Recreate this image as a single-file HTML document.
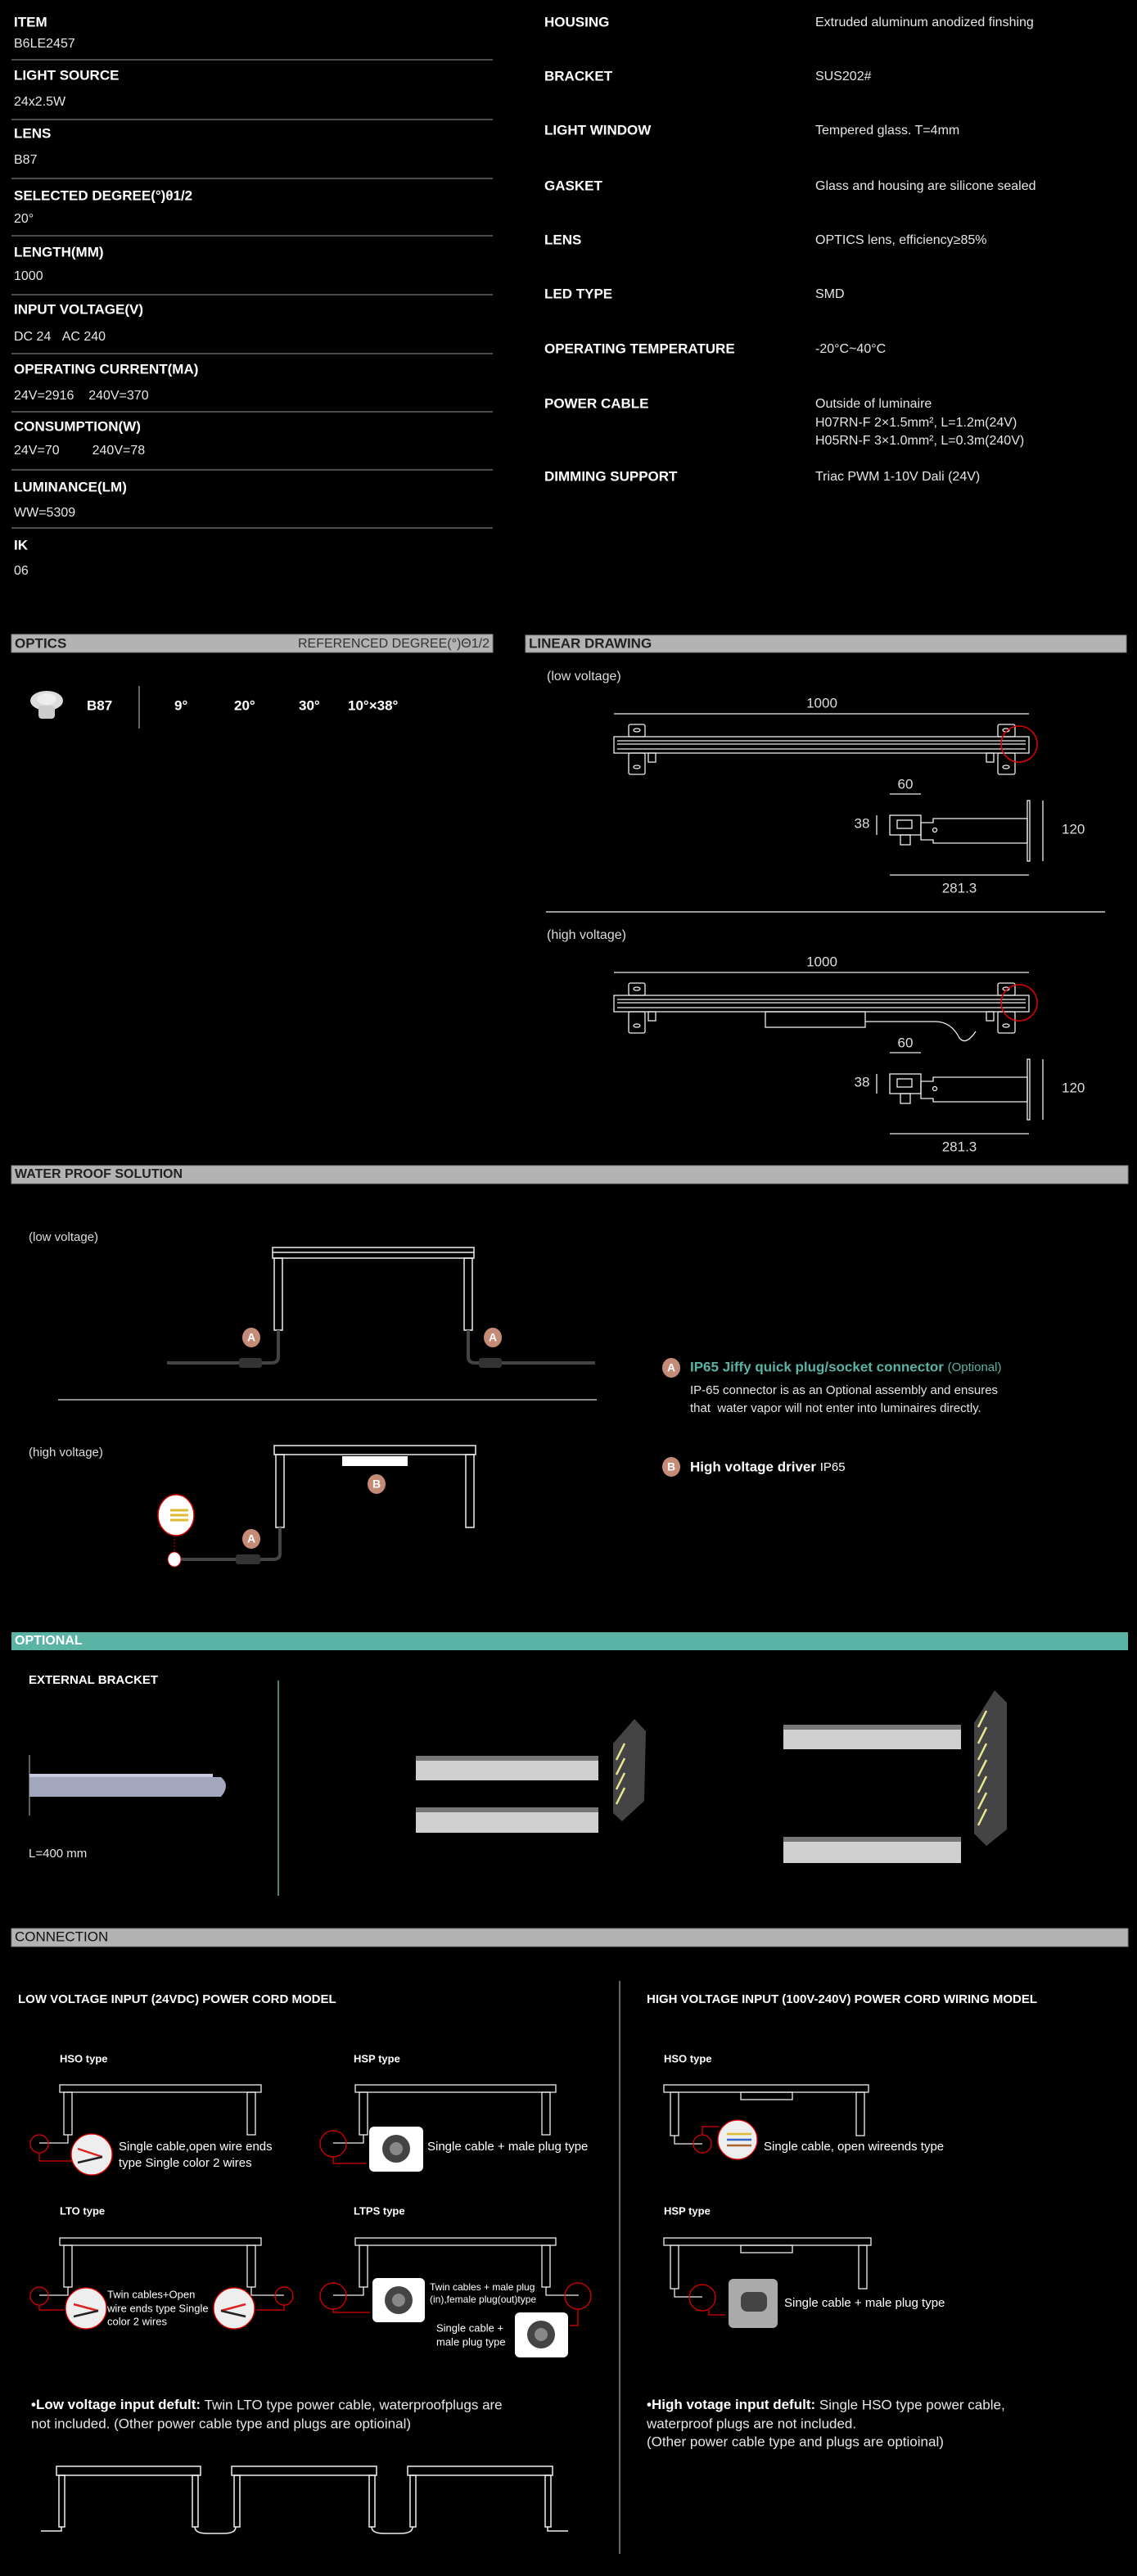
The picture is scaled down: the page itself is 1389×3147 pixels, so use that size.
<!DOCTYPE html>
<html><head><meta charset="utf-8"><style>
html,body{margin:0;padding:0;background:#000;}
svg{display:block}
text{font-family:"Liberation Sans",sans-serif;dominant-baseline:middle;white-space:pre}
.lb{font-weight:bold;font-size:17px;fill:#fff}
.v{font-size:16px;fill:#e6e6e6}
.hd{font-weight:bold;font-size:17px;fill:#222}
.sm{font-size:15px;fill:#fff}
.dim{font-size:17px;fill:#ddd}
</style></head><body>
<svg width="1389" height="3147" viewBox="0 0 1389 3147" xmlns="http://www.w3.org/2000/svg">
<rect width="1389" height="3147" fill="#000"/>

<!-- LEFT SPEC TABLE -->
<g stroke="#666" stroke-width="1.5">
<line x1="14" y1="73" x2="602" y2="73"/><line x1="14" y1="146" x2="602" y2="146"/>
<line x1="14" y1="218" x2="602" y2="218"/><line x1="14" y1="288" x2="602" y2="288"/>
<line x1="14" y1="360" x2="602" y2="360"/><line x1="14" y1="432" x2="602" y2="432"/>
<line x1="14" y1="503" x2="602" y2="503"/><line x1="14" y1="574" x2="602" y2="574"/>
<line x1="14" y1="645" x2="602" y2="645"/>
</g>
<text class="lb" x="17" y="28">ITEM</text><text class="v" x="17" y="54">B6LE2457</text>
<text class="lb" x="17" y="93">LIGHT SOURCE</text><text class="v" x="17" y="125">24x2.5W</text>
<text class="lb" x="17" y="164">LENS</text><text class="v" x="17" y="196">B87</text>
<text class="lb" x="17" y="240">SELECTED DEGREE(°)θ1/2</text><text class="v" x="17" y="268">20°</text>
<text class="lb" x="17" y="309">LENGTH(MM)</text><text class="v" x="17" y="338">1000</text>
<text class="lb" x="17" y="379">INPUT VOLTAGE(V)</text><text class="v" x="17" y="412">DC 24&#160;&#160;&#160;AC 240</text>
<text class="lb" x="17" y="452">OPERATING CURRENT(MA)</text><text class="v" x="17" y="484">24V=2916&#160;&#160;&#160;&#160;240V=370</text>
<text class="lb" x="17" y="522">CONSUMPTION(W)</text><text class="v" x="17" y="551">24V=70&#160;&#160;&#160;&#160;&#160;&#160;&#160;&#160;&#160;240V=78</text>
<text class="lb" x="17" y="596">LUMINANCE(LM)</text><text class="v" x="17" y="627">WW=5309</text>
<text class="lb" x="17" y="667">IK</text><text class="v" x="17" y="698">06</text>

<!-- RIGHT SPEC TABLE -->
<text class="lb" x="665" y="28">HOUSING</text><text class="v" x="996" y="28">Extruded aluminum anodized finshing</text>
<text class="lb" x="665" y="94">BRACKET</text><text class="v" x="996" y="94">SUS202#</text>
<text class="lb" x="665" y="160">LIGHT WINDOW</text><text class="v" x="996" y="160">Tempered glass. T=4mm</text>
<text class="lb" x="665" y="228">GASKET</text><text class="v" x="996" y="228">Glass and housing are silicone sealed</text>
<text class="lb" x="665" y="294">LENS</text><text class="v" x="996" y="294">OPTICS lens, efficiency≥85%</text>
<text class="lb" x="665" y="360">LED TYPE</text><text class="v" x="996" y="360">SMD</text>
<text class="lb" x="665" y="427">OPERATING TEMPERATURE</text><text class="v" x="996" y="427">-20°C~40°C</text>
<text class="lb" x="665" y="494">POWER CABLE</text><text class="v" x="996" y="494">Outside of luminaire</text>
<text class="v" x="996" y="517">H07RN-F 2×1.5mm², L=1.2m(24V)</text>
<text class="v" x="996" y="539">H05RN-F 3×1.0mm², L=0.3m(240V)</text>
<text class="lb" x="665" y="583">DIMMING SUPPORT</text><text class="v" x="996" y="583">Triac PWM 1-10V Dali (24V)</text>

<!-- OPTICS -->
<rect x="14" y="775" width="588" height="22" fill="#b3b3b3" stroke="#888"/>
<text class="hd" x="18" y="787">OPTICS</text>
<text x="598" y="787" text-anchor="end" style="font-size:16px;fill:#333">REFERENCED DEGREE(°)Θ1/2</text>
<ellipse cx="57" cy="856" rx="20" ry="12" fill="#ddd"/><rect x="47" y="862" width="20" height="16" rx="4" fill="#ccc"/>
<ellipse cx="57" cy="854" rx="12" ry="7" fill="#eee"/>
<text class="lb" x="106" y="863" style="font-size:17px">B87</text>
<line x1="170" y1="838" x2="170" y2="890" stroke="#888" stroke-width="1.5"/>
<text class="lb" x="213" y="863">9°</text><text class="lb" x="286" y="863">20°</text>
<text class="lb" x="365" y="863">30°</text><text class="lb" x="425" y="863">10°×38°</text>

<!-- LINEAR DRAWING -->
<rect x="642" y="776" width="734" height="21" fill="#b3b3b3" stroke="#888"/>
<text class="hd" x="646" y="787">LINEAR DRAWING</text>
<text class="dim" x="668" y="827" style="font-size:16px">(low voltage)</text>
<line x1="667" y1="1114" x2="1350" y2="1114" stroke="#ccc" stroke-width="1.5"/>
<text class="dim" x="668" y="1143" style="font-size:16px">(high voltage)</text>

<g id="lin" fill="none" stroke="#eee" stroke-width="1.3">
<text x="1004" y="860" text-anchor="middle" class="dim" stroke="none">1000</text>
<line x1="750" y1="872" x2="1257" y2="872"/>
<rect x="750" y="900" width="507" height="20"/>
<line x1="754" y1="905" x2="1253" y2="905"/><line x1="754" y1="909" x2="1253" y2="909"/>
<line x1="754" y1="915" x2="1253" y2="915"/>
<rect x="768" y="885" width="20" height="15" rx="2"/><rect x="768" y="920" width="20" height="26" rx="2"/>
<rect x="1219" y="885" width="21" height="15" rx="2"/><rect x="1219" y="920" width="21" height="26" rx="2"/>
<rect x="792" y="920" width="9" height="11"/><rect x="1205" y="920" width="9" height="11"/>
<ellipse cx="778" cy="892" rx="4" ry="2"/><ellipse cx="778" cy="937" rx="4" ry="2"/>
<ellipse cx="1229" cy="892" rx="4" ry="2"/><ellipse cx="1229" cy="937" rx="4" ry="2"/>
<circle cx="1245" cy="909" r="22" stroke="#d00" stroke-width="1.5"/>
<text x="1106" y="959" text-anchor="middle" class="dim" stroke="none">60</text>
<line x1="1087" y1="970" x2="1125" y2="970"/>
<text x="1053" y="1007" text-anchor="middle" class="dim" stroke="none">38</text>
<line x1="1071" y1="996" x2="1071" y2="1020"/>
<rect x="1087" y="996" width="38" height="24"/><rect x="1096" y="1002" width="18" height="10"/>
<rect x="1100" y="1020" width="12" height="12"/>
<path d="M1125 1005 h15 v-5 h115 v30 h-115 v-4 h-15z"/><circle cx="1142" cy="1014" r="2.5"/>
<rect x="1255" y="978" width="3" height="74"/>
<line x1="1274" y1="978" x2="1274" y2="1052"/>
<text x="1297" y="1014" class="dim" stroke="none">120</text>
<line x1="1087" y1="1069" x2="1257" y2="1069"/>
<text x="1172" y="1086" text-anchor="middle" class="dim" stroke="none">281.3</text>
</g>
<use href="#lin" y="316"/>
<g fill="none" stroke="#eee" stroke-width="1.3">
<rect x="935" y="1236" width="122" height="19"/>
<path d="M1057 1248 h85 q20 0 30 20 q8 10 20 -8"/>
</g>

<!-- WATER PROOF -->
<rect x="14" y="1424" width="1364" height="22" fill="#b3b3b3" stroke="#888"/>
<text class="hd" x="18" y="1435" style="font-size:16px">WATER PROOF SOLUTION</text>
<text class="dim" x="35" y="1512" style="font-size:15px">(low voltage)</text>
<g fill="none" stroke="#eee" stroke-width="1.5">
<rect x="333" y="1524" width="246" height="13"/><line x1="333" y1="1530" x2="579" y2="1530"/>
<rect x="335" y="1537" width="10" height="88"/><rect x="567" y="1537" width="10" height="88"/>
<rect x="335" y="1766" width="246" height="11"/>
<rect x="337" y="1777" width="10" height="89"/><rect x="569" y="1777" width="10" height="89"/>
</g>
<rect x="418" y="1779" width="80" height="12" fill="#fff"/>
<g fill="none" stroke="#444" stroke-width="4">
<path d="M340 1625 v32 q0 8 -8 8 h-128"/><path d="M572 1625 v32 q0 8 8 8 h147"/>
<path d="M342 1866 v32 q0 7 -8 7 h-113"/>
</g>
<g fill="#333"><rect x="292" y="1659" width="28" height="12" rx="3"/><rect x="585" y="1659" width="28" height="12" rx="3"/><rect x="288" y="1899" width="30" height="12" rx="3"/></g>
<ellipse cx="215" cy="1851" rx="22" ry="25" fill="#fff" stroke="#c00" stroke-width="1.5"/>
<ellipse cx="213" cy="1905" rx="8" ry="9" fill="#fff" stroke="#c00"/>
<line x1="213" y1="1876" x2="213" y2="1896" stroke="#c00" stroke-dasharray="2 2"/>
<path d="M208 1845 h22 M208 1851 h22 M208 1857 h22" stroke-width="3" stroke="#db3"/>
<g font-weight="bold" font-size="14" fill="#fff" text-anchor="middle">
<ellipse cx="307" cy="1634" rx="11" ry="12" fill="#c48b77"/><text x="307" y="1635">A</text>
<ellipse cx="602" cy="1634" rx="11" ry="12" fill="#c48b77"/><text x="602" y="1635">A</text>
<ellipse cx="460" cy="1813" rx="11" ry="12" fill="#c48b77"/><text x="460" y="1814">B</text>
<ellipse cx="307" cy="1880" rx="11" ry="12" fill="#c48b77"/><text x="307" y="1881">A</text>
<ellipse cx="820" cy="1671" rx="11" ry="12" fill="#c48b77"/><text x="820" y="1672">A</text>
<ellipse cx="820" cy="1792" rx="11" ry="12" fill="#c48b77"/><text x="820" y="1793">B</text>
</g>
<line x1="71" y1="1710" x2="729" y2="1710" stroke="#bbb" stroke-width="1.5"/>
<text class="dim" x="35" y="1775" style="font-size:15px">(high voltage)</text>
<text x="843" y="1671" style="font-size:17px;font-weight:bold;fill:#5ab3a4">IP65 Jiffy quick plug/socket connector <tspan font-weight="normal" font-size="15">(Optional)</tspan></text>
<text x="843" y="1699" class="v" style="font-size:15px">IP-65 connector is as an Optional assembly and ensures</text>
<text x="843" y="1721" class="v" style="font-size:15px">that&#160; water vapor will not enter into luminaires directly.</text>
<text x="843" y="1793" style="font-size:17px;font-weight:bold;fill:#fff">High voltage driver <tspan font-weight="normal" font-size="15">IP65</tspan></text>

<!-- OPTIONAL -->
<rect x="14" y="1994" width="1364" height="22" fill="#5ab3a4"/>
<text x="18" y="2005" style="font-size:16px;font-weight:bold;fill:#fff">OPTIONAL</text>
<text x="35" y="2053" style="font-size:15px;font-weight:bold;fill:#fff">EXTERNAL BRACKET</text>
<line x1="340" y1="2053" x2="340" y2="2316" stroke="#5ab3a4" stroke-width="1.5"/>
<line x1="36" y1="2144" x2="36" y2="2218" stroke="#bbb"/>
<path d="M36 2167 h224 v4 h10 q12 10 0 24 h-10 v0 h-224z" fill="#a3a7bd"/>
<rect x="36" y="2167" width="224" height="4" fill="#c8cbe0"/>
<text x="35" y="2265" class="v" style="font-size:15px">L=400 mm</text>
<g fill="#d0d0d0">
<rect x="508" y="2145" width="223" height="30"/><rect x="508" y="2208" width="223" height="31"/>
<rect x="957" y="2107" width="217" height="30"/><rect x="957" y="2244" width="217" height="32"/>
</g>
<g fill="#777"><rect x="508" y="2145" width="223" height="6"/><rect x="508" y="2208" width="223" height="6"/>
<rect x="957" y="2107" width="217" height="6"/><rect x="957" y="2244" width="217" height="6"/></g>
<polygon points="749,2130 775,2100 789,2115 787,2200 760,2225 749,2215" fill="#444"/>
<polygon points="1190,2105 1215,2065 1230,2080 1230,2235 1205,2255 1190,2240" fill="#444"/>
<g stroke="#e8e890" stroke-width="2.5">
<line x1="753" y1="2150" x2="763" y2="2130"/><line x1="753" y1="2168" x2="763" y2="2148"/><line x1="753" y1="2186" x2="763" y2="2166"/><line x1="753" y1="2204" x2="763" y2="2184"/>
<line x1="1195" y1="2110" x2="1205" y2="2090"/><line x1="1195" y1="2130" x2="1205" y2="2110"/><line x1="1195" y1="2150" x2="1205" y2="2130"/><line x1="1195" y1="2170" x2="1205" y2="2150"/><line x1="1195" y1="2190" x2="1205" y2="2170"/><line x1="1195" y1="2210" x2="1205" y2="2190"/><line x1="1195" y1="2230" x2="1205" y2="2210"/>
</g>

<!-- CONNECTION -->
<rect x="14" y="2356" width="1364" height="22" fill="#b3b3b3" stroke="#888"/>
<text x="18" y="2367" style="font-size:17px;fill:#111">CONNECTION</text>
<line x1="757" y1="2420" x2="757" y2="3120" stroke="#888" stroke-width="1.5"/>
<text class="lb" x="22" y="2443" style="font-size:15px">LOW VOLTAGE INPUT (24VDC) POWER CORD MODEL</text>
<text class="lb" x="790" y="2443" style="font-size:15px">HIGH VOLTAGE INPUT (100V-240V) POWER CORD WIRING MODEL</text>
<text class="lb" x="73" y="2516" style="font-size:13px">HSO type</text><text class="lb" x="432" y="2516" style="font-size:13px">HSP type</text>
<text class="lb" x="73" y="2702" style="font-size:13px">LTO type</text><text class="lb" x="432" y="2702" style="font-size:13px">LTPS type</text>
<text class="lb" x="811" y="2516" style="font-size:13px">HSO type</text><text class="lb" x="811" y="2702" style="font-size:13px">HSP type</text>
<g fill="none" stroke="#eee" stroke-width="1.3">
<rect x="73" y="2547" width="246" height="9"/><rect x="78" y="2556" width="10" height="52"/><rect x="302" y="2556" width="10" height="52"/>
<rect x="434" y="2547" width="245" height="9"/><rect x="439" y="2556" width="10" height="52"/><rect x="662" y="2556" width="10" height="52"/>
<rect x="73" y="2734" width="246" height="9"/><rect x="78" y="2743" width="10" height="51"/><rect x="302" y="2743" width="10" height="51"/>
<rect x="434" y="2734" width="245" height="9"/><rect x="439" y="2743" width="10" height="51"/><rect x="662" y="2743" width="10" height="51"/>
<rect x="811" y="2547" width="250" height="9"/><rect x="819" y="2556" width="10" height="53"/><rect x="1046" y="2556" width="10" height="53"/>
<rect x="905" y="2556" width="63" height="9"/>
<rect x="811" y="2734" width="253" height="9"/><rect x="819" y="2743" width="10" height="53"/><rect x="1049" y="2743" width="10" height="53"/>
<rect x="905" y="2743" width="63" height="9"/>
<path d="M83 2608 v10 h-35"/><path d="M444 2608 v10 h-37"/>
<path d="M83 2794 v10 h-35"/><path d="M307 2794 v10 h40"/><path d="M444 2794 v10 h-37"/><path d="M667 2794 v10 h40"/>
<path d="M824 2609 v10 h34"/><path d="M824 2796 v10 h34"/>
</g>
<g fill="none" stroke="#d00" stroke-width="1.3">
<circle cx="48" cy="2619" r="11"/><circle cx="407" cy="2619" r="16"/>
<circle cx="48" cy="2805" r="11"/><circle cx="347" cy="2805" r="11"/>
<circle cx="407" cy="2805" r="16"/><circle cx="706" cy="2805" r="16"/>
<circle cx="858" cy="2619" r="11"/><circle cx="858" cy="2807" r="16"/>
<path d="M48 2630 v10 h60"/><path d="M407 2635 v8 h40"/><path d="M48 2816 v6 h30"/><path d="M347 2816 v6 h-34"/>
<path d="M407 2821 v4 h45"/><path d="M706 2821 v20 h-10"/><path d="M858 2608 v-10 h20"/><path d="M866 2822 v6 h20"/>
</g>
<g fill="#eee" stroke="#d00" stroke-width="1.3">
<circle cx="112" cy="2632" r="25"/><circle cx="105" cy="2820" r="25"/><circle cx="286" cy="2820" r="25"/><circle cx="901" cy="2614" r="24"/>
</g>
<g stroke-width="2.5"><path d="M95 2625 l30 10" stroke="#d22"/><path d="M95 2642 l30 -7" stroke="#222"/>
<path d="M90 2815 l30 8" stroke="#d22"/><path d="M90 2830 l30 -7" stroke="#222"/>
<path d="M300 2815 l-30 8" stroke="#d22"/><path d="M300 2830 l-30 -7" stroke="#222"/>
<path d="M888 2607 h30" stroke="#db3"/><path d="M888 2614 h30" stroke="#36c"/><path d="M888 2621 h30" stroke="#a63"/></g>
<g fill="#fff"><rect x="451" y="2598" width="66" height="55" rx="6"/><rect x="455" y="2783" width="64" height="54" rx="6"/><rect x="629" y="2825" width="65" height="55" rx="6"/></g>
<rect x="890" y="2784" width="60" height="60" rx="6" fill="#aaa"/>
<g fill="#444"><circle cx="484" cy="2625" r="17"/><circle cx="487" cy="2810" r="17"/><circle cx="661" cy="2852" r="17"/><rect x="905" y="2800" width="32" height="24" rx="8"/></g>
<g fill="#888"><circle cx="484" cy="2625" r="8"/><circle cx="487" cy="2810" r="8"/><circle cx="661" cy="2852" r="8"/></g>
<text class="sm" x="145" y="2623">Single cable,open wire ends</text><text class="sm" x="145" y="2643">type Single color 2 wires</text>
<text class="sm" x="522" y="2623">Single cable + male plug type</text>
<text class="sm" x="131" y="2804" style="font-size:13px">Twin cables+Open</text><text class="sm" x="131" y="2821" style="font-size:13px">wire ends type Single</text><text class="sm" x="131" y="2837" style="font-size:13px">color 2 wires</text>
<text class="sm" x="525" y="2795" style="font-size:12px">Twin cables + male plug</text><text class="sm" x="525" y="2810" style="font-size:12px">(in),female plug(out)type</text>
<text class="sm" x="533" y="2845" style="font-size:13px">Single cable +</text><text class="sm" x="533" y="2862" style="font-size:13px">male plug type</text>
<text class="sm" x="933" y="2623">Single cable, open wireends type</text>
<text class="sm" x="958" y="2814">Single cable + male plug type</text>
<text x="38" y="2939" class="v" style="font-size:17px"><tspan font-weight="bold" fill="#fff">•Low voltage input defult:</tspan> Twin LTO type power cable, waterproofplugs are</text>
<text x="38" y="2962" class="v" style="font-size:17px">not included. (Other power cable type and plugs are optioinal)</text>
<text x="790" y="2939" class="v" style="font-size:17px"><tspan font-weight="bold" fill="#fff">•High votage input defult:</tspan> Single HSO type power cable,</text>
<text x="790" y="2962" class="v" style="font-size:17px">waterproof plugs are not included.</text>
<text x="790" y="2984" class="v" style="font-size:17px">(Other power cable type and plugs are optioinal)</text>
<g fill="none" stroke="#eee" stroke-width="1.5">
<rect x="69" y="3013" width="176" height="11"/><rect x="72" y="3024" width="7" height="63"/><rect x="235" y="3024" width="7" height="63"/>
<rect x="283" y="3013" width="177" height="11"/><rect x="286" y="3024" width="7" height="63"/><rect x="451" y="3024" width="7" height="63"/>
<rect x="498" y="3013" width="177" height="11"/><rect x="501" y="3024" width="7" height="63"/><rect x="666" y="3024" width="7" height="63"/>
<path d="M75 3087 v5 h-25"/><path d="M238 3087 q0 8 15 8 h20 q15 0 15 -8"/><path d="M454 3087 q0 8 15 8 h20 q15 0 15 -8"/><path d="M669 3087 v5 h25"/>
</g>
</svg>
</body></html>
